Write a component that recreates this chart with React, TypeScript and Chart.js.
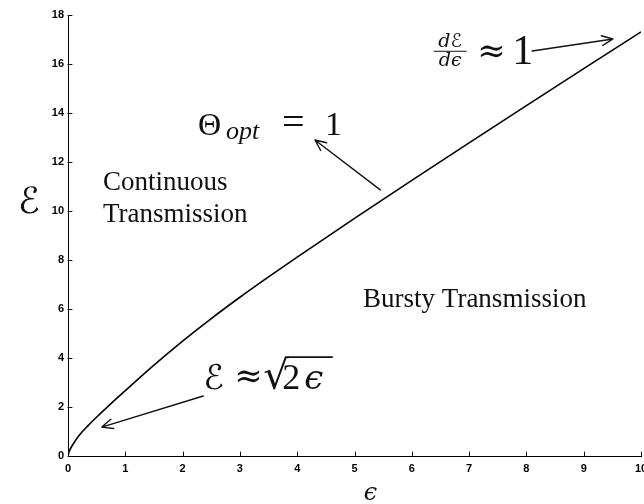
import { useEffect, useRef } from "react";
import { Chart, registerables } from "chart.js";

Chart.register(...registerables);

// Normalised energy ε against total energy ℰ along the Θopt = 1 boundary
const epsilon = [0, 0.02, 0.08, 0.2, 0.35, 0.55, 0.75, 1, 1.5, 2, 2.5, 3, 3.5, 4, 5, 6, 7, 8, 9, 10];
const energy = [0, 0.18, 0.45, 0.86, 1.24, 1.7, 2.14, 2.67, 3.71, 4.69, 5.61, 6.48, 7.31, 8.12, 9.7, 11.25, 12.78, 14.3, 15.81, 17.31];

const xTickValues = [0, 1, 2, 3, 4, 5, 6, 7, 8, 9, 10];
const yTickValues = [0, 2, 4, 6, 8, 10, 12, 14, 16, 18];

const SERIF = '"Liberation Serif", "Times New Roman", serif';
const MATH = '"DejaVu Serif", "DejaVu Sans", serif';
const SANS = '"Liberation Sans", Arial, sans-serif';
const INK = "#111";

function arrow(ctx: CanvasRenderingContext2D, x0: number, y0: number, x1: number, y1: number, head = 12) {
  const a = Math.atan2(y1 - y0, x1 - x0);
  ctx.beginPath();
  ctx.moveTo(x0, y0);
  ctx.lineTo(x1, y1);
  for (const s of [-1, 1]) {
    ctx.moveTo(x1, y1);
    ctx.lineTo(x1 - head * Math.cos(a + s * 0.42), y1 - head * Math.sin(a + s * 0.42));
  }
  ctx.stroke();
}

const annotations = {
  id: "regionNotes",
  afterDraw(chart: any) {
    const { ctx, chartArea } = chart;
    const xs = chart.scales.x;
    const ys = chart.scales.y;
    const X = (v: number) => xs.getPixelForValue(v);
    const Y = (v: number) => ys.getPixelForValue(v);

    ctx.save();
    ctx.fillStyle = INK;
    ctx.strokeStyle = INK;
    ctx.lineCap = "round";

    // inward tick marks
    ctx.lineWidth = 1;
    ctx.beginPath();
    for (const v of xTickValues) {
      const p = Math.round(X(v)) + 0.5;
      ctx.moveTo(p, chartArea.bottom);
      ctx.lineTo(p, chartArea.bottom - 4);
    }
    for (const v of yTickValues) {
      const p = Math.round(Y(v)) + 0.5;
      ctx.moveTo(chartArea.left, p);
      ctx.lineTo(chartArea.left + 4, p);
    }
    ctx.stroke();

    ctx.textAlign = "left";
    ctx.textBaseline = "alphabetic";

    // region labels
    ctx.font = `27px ${SERIF}`;
    ctx.fillText("Continuous", X(0.61), Y(10.86));
    ctx.fillText("Transmission", X(0.61), Y(9.55));
    ctx.fillText("Bursty Transmission", X(5.15), Y(6.08));

    // Θopt = 1
    const tx = X(2.27);
    const tb = Y(13.1);
    ctx.font = `32px ${SERIF}`;
    ctx.fillText("Θ", tx, tb);
    ctx.font = `italic 26px ${SERIF}`;
    ctx.fillText("opt", tx + 28, tb + 4);
    ctx.font = `40px ${SERIF}`;
    ctx.fillText("=", tx + 84, tb);
    ctx.font = `34px ${SERIF}`;
    ctx.fillText("1", tx + 127, tb);
    ctx.lineWidth = 1.4;
    arrow(ctx, X(5.45), Y(10.86), X(4.31), Y(12.9));

    // dℰ/dϵ ≈ 1
    const fx = X(6.67);
    const bar = Y(16.54);
    ctx.textAlign = "center";
    ctx.font = `italic 19px ${MATH}`;
    ctx.fillText("dℰ", fx, bar - 4);
    ctx.fillText("dϵ", fx, bar + 15);
    ctx.lineWidth = 1;
    ctx.beginPath();
    ctx.moveTo(fx - 16, bar + 0.5);
    ctx.lineTo(fx + 16, bar + 0.5);
    ctx.stroke();
    ctx.textAlign = "left";
    ctx.font = `34px ${MATH}`;
    ctx.fillText("≈", fx + 27, bar + 11);
    ctx.font = `42px ${SERIF}`;
    ctx.fillText("1", fx + 62, bar + 13);
    ctx.lineWidth = 1.4;
    arrow(ctx, X(8.1), Y(16.53), X(9.51), Y(17.02));

    // ℰ ≈ √(2ϵ)
    const sx = X(2.36);
    const sb = Y(2.72);
    ctx.font = `34px ${MATH}`;
    ctx.fillText("ℰ", sx, sb);
    ctx.fillText("≈", sx + 31, sb - 2);
    ctx.font = `40px ${MATH}`;
    const rx = sx + 60;
    ctx.fillText("√", rx, sb);
    const rm = ctx.measureText("√");
    const top = sb - rm.actualBoundingBoxAscent;
    const rEnd = rx + rm.actualBoundingBoxRight;
    ctx.font = `36px ${SERIF}`;
    ctx.fillText("2", sx + 79, sb);
    ctx.font = `italic 34px ${MATH}`;
    ctx.fillText("ϵ", sx + 101, sb);
    ctx.lineWidth = 1.6;
    ctx.beginPath();
    ctx.moveTo(rEnd - 1, top + 0.8);
    ctx.lineTo(sx + 129, top + 0.8);
    ctx.stroke();
    ctx.lineWidth = 1.4;
    arrow(ctx, X(2.36), Y(2.45), X(0.59), Y(1.18));

    // axis titles
    ctx.textAlign = "center";
    ctx.textBaseline = "middle";
    ctx.font = `36px ${MATH}`;
    ctx.fillText("ℰ", chartArea.left - 39, Y(10.3));
    ctx.textBaseline = "alphabetic";
    ctx.font = `italic 24px ${MATH}`;
    ctx.fillText("ϵ", X(5.28), chartArea.bottom + 44);

    ctx.restore();
  },
};

export default function App() {
  const canvasRef = useRef<HTMLCanvasElement | null>(null);

  useEffect(() => {
    const canvas = canvasRef.current;
    if (!canvas) return;
    const tickFont = { family: SANS, size: 11, weight: "bold" as const };

    const chart = new Chart(canvas, {
      type: "line",
      data: {
        datasets: [
          {
            data: epsilon.map((x, i) => ({ x, y: energy[i] })),
            borderColor: "#000",
            borderWidth: 1.6,
            pointRadius: 0,
            fill: false,
            cubicInterpolationMode: "monotone",
          },
        ],
      },
      options: {
        responsive: false,
        animation: false,
        devicePixelRatio: 1,
        layout: { padding: { top: 15, right: 3, left: 0, bottom: 0 } },
        plugins: { legend: { display: false }, tooltip: { enabled: false } },
        scales: {
          x: {
            type: "linear",
            min: 0,
            max: 10,
            afterBuildTicks: (s: any) => {
              s.ticks = xTickValues.map((value) => ({ value }));
            },
            ticks: { font: tickFont, color: "#000", padding: 6, maxRotation: 0, autoSkip: false },
            grid: { display: true, drawOnChartArea: false, drawTicks: false },
            border: { display: true, color: "#000", width: 1 },
            afterFit: (s: any) => {
              s.height = 48;
              s.paddingLeft = 0;
              s.paddingRight = 0;
            },
          },
          y: {
            type: "linear",
            min: 0,
            max: 18,
            afterBuildTicks: (s: any) => {
              s.ticks = yTickValues.map((value) => ({ value }));
            },
            ticks: { font: tickFont, color: "#000", padding: 4, autoSkip: false },
            grid: { display: true, drawOnChartArea: false, drawTicks: false },
            border: { display: true, color: "#000", width: 1 },
            afterFit: (s: any) => {
              s.width = 68;
              s.paddingTop = 0;
              s.paddingBottom = 0;
            },
          },
        },
      },
      plugins: [annotations],
    });

    return () => chart.destroy();
  }, []);

  return (
    <div
      style={{
        position: "fixed",
        left: 0,
        top: 0,
        width: 644,
        height: 504,
        overflow: "hidden",
        background: "#fff",
      }}
    >
      <canvas ref={canvasRef} width={644} height={504} style={{ display: "block" }} />
    </div>
  );
}
